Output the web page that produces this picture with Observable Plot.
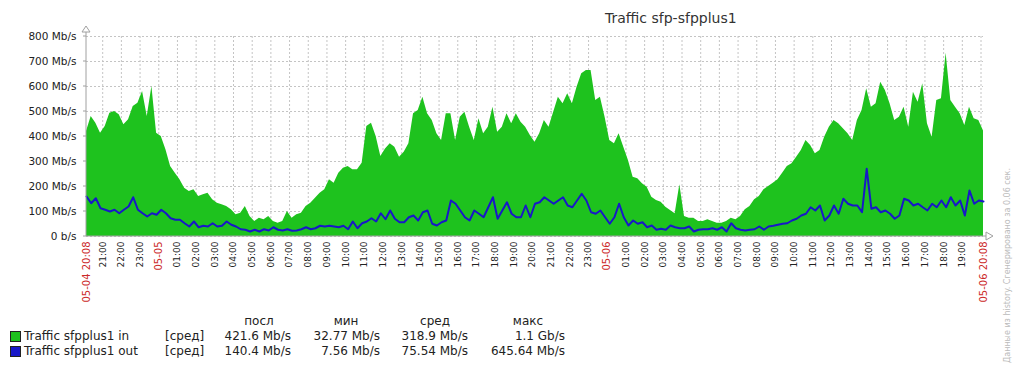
<!DOCTYPE html>
<html><head><meta charset="utf-8">
<script src="https://cdn.jsdelivr.net/npm/d3@7"></script>
<script src="https://cdn.jsdelivr.net/npm/@observablehq/plot@0.6"></script>
<style>
body{margin:0;background:#fff;font-family:"DejaVu Sans",sans-serif;}
#wrap{position:relative;width:1014px;height:368px;overflow:hidden;background:#fff;}
#wrap svg{position:absolute;left:0;top:0;}
.t{position:absolute;white-space:nowrap;color:#222;line-height:14px;}
.r{text-align:right;}
.sq{position:absolute;width:9px;height:9px;border:1px solid #222;}
</style></head><body><div id="wrap"></div>
<script>
const title = "Traffic sfp-sfpplus1";
const startTime = Date.UTC(2016, 4, 4, 20, 8);
const stepMinutes = 15;
const spanHours = 48;
// Traffic in, Mb/s, one reading per 15 minutes from 05-04 20:08
const inValues = [
420,480,453,413,440,493,500,487,447,467,
520,533,580,480,600,413,400,347,280,253,
227,193,180,187,160,167,173,147,133,127,
120,107,87,93,120,80,60,73,67,80,
60,53,60,100,73,87,93,120,133,153,
173,187,227,213,253,273,280,267,267,293,
440,453,400,320,350,371,357,317,337,371,
491,504,557,491,464,411,384,491,491,384,
477,497,437,384,471,411,437,517,417,437,
491,451,491,457,437,404,377,411,464,437,
497,557,531,571,531,597,651,664,664,544,
557,477,384,371,411,357,304,237,231,211,
197,157,144,137,117,104,91,207,80,73,
73,60,60,67,60,53,53,60,73,67,
80,107,120,147,160,187,200,213,227,253,
280,291,317,344,384,364,331,344,397,437,
464,451,431,411,384,464,504,591,517,531,
617,584,531,464,477,517,437,577,537,611,
451,397,544,551,733,544,517,491,444,517,
471,464,422
];
// Traffic out, Mb/s
const outValues = [
160,133,153,113,107,100,107,93,107,120,
157,107,93,80,93,87,107,93,73,67,
67,53,40,60,37,43,40,53,40,43,
60,47,40,29,27,20,27,20,29,24,
37,27,24,29,23,24,29,37,29,33,
43,40,43,40,37,43,29,60,33,53,
60,73,60,93,69,104,71,57,57,77,
84,64,97,104,51,44,57,64,144,131,
104,77,64,104,91,77,117,157,71,104,
137,91,77,77,124,77,131,137,157,144,
131,144,157,124,117,144,171,144,97,91,
104,77,51,77,131,77,44,64,51,57,
37,44,27,31,27,44,37,33,33,40,
20,27,29,29,33,27,37,20,53,33,
27,24,27,29,40,27,40,43,47,51,
53,64,71,84,91,117,104,124,64,84,
124,91,151,131,124,124,97,271,111,117,
97,104,91,71,84,151,144,124,131,117,
104,131,117,144,117,157,124,144,84,184,
131,144,140
];
const yTicks = [0,100,200,300,400,500,600,700,800];
const yTickLabels = ["0 b/s","100 Mb/s","200 Mb/s","300 Mb/s","400 Mb/s","500 Mb/s","600 Mb/s","700 Mb/s","800 Mb/s"];
const legendHeaders = ["посл","мин","сред","макс"];
const seriesNames = ["Traffic sfpplus1 in","Traffic sfpplus1 out"];
const seriesFunc = ["[сред]","[сред]"];
const seriesColors = ["#1ec21e","#1818c8"];
const inStats = ["421.6 Mb/s","32.77 Mb/s","318.9 Mb/s","1.1 Gb/s"];
const outStats = ["140.4 Mb/s","7.56 Mb/s","75.54 Mb/s","645.64 Mb/s"];
const sideNote = "Данные из history. Сгенерировано за 0.06 сек.";

const start = new Date(startTime);
const end = new Date(startTime + spanHours * 3600000);
const data = inValues.map((v, i) => ({t: new Date(startTime + i * stepMinutes * 60000), vin: v, vout: outValues[i]}));
const hours = d3.utcHour.range(start, end);
const hourLabelTicks = hours.filter(d => d.getUTCHours() !== 0 && (+end - +d) > 1800000);
const dayTicks = [start, ...hours.filter(d => d.getUTCHours() === 0), end];
const fmtDay = d3.utcFormat("%m-%d"), fmtFull = d3.utcFormat("%m-%d %H:%M");
const grey = "#a0a0a0";

const decor = (index, scales) => {
  const g = d3.create("svg:g");
  const x0 = scales.x(start), x1 = scales.x(end);
  const y0 = scales.y(0), yT = scales.y(800);
  yTicks.forEach(t => g.append("line").attr("x1", x0 - 3).attr("x2", x0).attr("y1", scales.y(t)).attr("y2", scales.y(t)).attr("stroke", grey));
  g.append("line").attr("x1", x0).attr("x2", x0).attr("y1", y0).attr("y2", yT - 4).attr("stroke", grey);
  g.append("path").attr("d", `M${x0-4},${yT-4}L${x0},${yT-10}L${x0+4},${yT-4}Z`).attr("fill", "#fff").attr("stroke", grey);
  g.append("line").attr("x1", x0).attr("x2", x1 + 3).attr("y1", y0).attr("y2", y0).attr("stroke", grey);
  g.append("path").attr("d", `M${x1+3},${y0-4}L${x1+10},${y0}L${x1+3},${y0+4}Z`).attr("fill", "#fff").attr("stroke", grey);
  return g.node();
};

const chart = Plot.plot({
  width: 1014, height: 312,
  marginLeft: 86, marginRight: 31, marginTop: 36, marginBottom: 76,
  style: {fontFamily: "DejaVu Sans", fontSize: "10px", color: "#222", background: "transparent", overflow: "visible"},
  x: {type: "utc", domain: [start, end]},
  y: {domain: [0, 800]},
  marks: [
    Plot.gridX(hours, {stroke: "#c4c4c4", strokeOpacity: 1, strokeDasharray: "2,2"}),
    Plot.gridY(yTicks, {stroke: "#c4c4c4", strokeOpacity: 1, strokeDasharray: "2,2"}),
    Plot.areaY(data, {x: "t", y: "vin", fill: seriesColors[0], curve: "linear"}),
    Plot.lineY(data, {x: "t", y: "vout", stroke: seriesColors[1], strokeWidth: 2, curve: "linear"}),
    Plot.axisY(yTicks, {tickFormat: (d, i) => yTickLabels[yTicks.indexOf(d)], tickSize: 0, tickPadding: 10, fontSize: 10.5, color: "#222", label: null}),
    Plot.axisX(hourLabelTicks, {tickFormat: "%H:%M", tickRotate: -90, tickSize: 0, tickPadding: 5, fontSize: 9, color: "#222", label: null}),
    Plot.axisX(dayTicks, {tickFormat: d => (d.getUTCHours() === 0 && d.getUTCMinutes() === 0) ? fmtDay(d) : fmtFull(d), tickRotate: -90, tickSize: 0, tickPadding: 5, fontSize: 10, color: "#cc2a2a", label: null}),
    decor
  ]
});

const wrap = document.getElementById("wrap");
wrap.appendChild(chart);

function addText(txt, opts) {
  const el = document.createElement("div");
  el.className = "t" + (opts.right != null ? " r" : "");
  el.textContent = txt;
  el.style.fontSize = (opts.size || 12) + "px";
  el.style.top = opts.top + "px";
  if (opts.left != null) el.style.left = opts.left + "px";
  if (opts.right != null) el.style.right = (1014 - opts.right) + "px";
  if (opts.center != null) { el.style.left = opts.center + "px"; el.style.transform = "translateX(-50%)"; }
  if (opts.color) el.style.color = opts.color;
  wrap.appendChild(el);
  return el;
}
addText(title, {left: 605, top: 11, size: 14, color: "#333"});

const headerCenters = [259, 346, 435, 528];
const statRights = [291, 380, 468, 565];
legendHeaders.forEach((h, i) => addText(h, {center: headerCenters[i], top: 314}));
[inStats, outStats].forEach((stats, r) => {
  const top = 329 + r * 15;
  const sq = document.createElement("div");
  sq.className = "sq";
  sq.style.left = "10px"; sq.style.top = (top + 2) + "px";
  sq.style.background = seriesColors[r];
  wrap.appendChild(sq);
  addText(seriesNames[r], {left: 24, top});
  addText(seriesFunc[r], {left: 165, top});
  stats.forEach((s, i) => addText(s, {right: statRights[i], top}));
});

const side = addText(sideNote, {left: 1003, top: 363, size: 8, color: "#bbb"});
side.style.transformOrigin = "0 0";
side.style.transform = "rotate(-90deg)";
side.style.lineHeight = "10px";
</script></body></html>
